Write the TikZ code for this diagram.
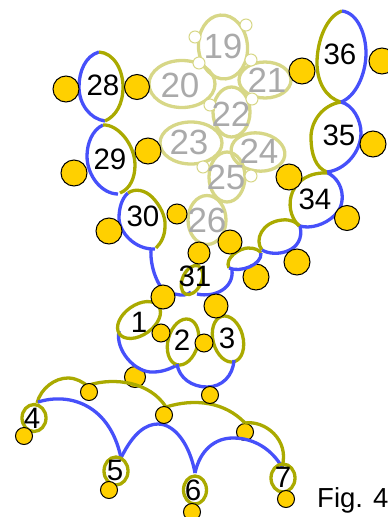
\documentclass[tikz,border=0pt]{standalone}
\usepackage{fontspec}
\setmainfont{Liberation Sans}
\definecolor{ol}{RGB}{170,170,0}
\definecolor{bl}{RGB}{70,80,250}
\definecolor{pl}{RGB}{215,215,135}
\definecolor{gd}{RGB}{255,208,0}
\definecolor{gy}{RGB}{170,170,170}
\tikzset{x=1pt,y=-1pt,
 olv/.style={draw=ol,line width=3.3pt},
 blu/.style={draw=bl,line width=3.3pt},
 pale/.style={draw=pl,line width=3.3pt},
 bead/.style={circle,draw=black,fill=gd,line width=1pt,inner sep=0pt},
 palebead/.style={circle,draw=pl,fill=white,line width=1pt,inner sep=0pt,minimum size=12pt},
 num/.style={font=\fontsize{29.5}{29.5}\selectfont,text=black,inner sep=0pt},
 gnum/.style={font=\fontsize{35}{35}\selectfont,text=gy,inner sep=0pt}}
\begin{document}
\begin{tikzpicture}
\useasboundingbox (0,0) rectangle (388,517);
% pale loops
\draw[pale,rotate around={5:(223,47)}] (223,47) ellipse (24.5 and 32);
\draw[pale] (182,84) ellipse (33 and 23.5);
\draw[pale] (265,80) ellipse (26 and 18);
\draw[pale] (231.5,112) ellipse (18.5 and 25);
\draw[pale] (191,143) ellipse (31 and 21);
\draw[pale,rotate around={-8:(258,152)}] (258,152) ellipse (27 and 19);
\draw[pale] (227,177) ellipse (18 and 25);
\draw[pale] (207,220) ellipse (19 and 24.5);
\foreach \n/\x/\y in {a/246/25,b/195/37,c/199/63,d/251/60,e/252/99,f/210/105,g/203/167,h/251/176}
 \node[palebead] (p\n) at (\x,\y) {};
% beads lying under the strands
\foreach \n/\x/\y/\d in {u1/135/377/21,u2/256/277/26,u3/245/432/17}
 \node[bead,minimum size=\d pt] (\n) at (\x,\y) {};
% strands, top chain
\draw[blu] (99,52) .. controls (85,56) and (79,72) .. (79,87) .. controls (79,104) and (90,119) .. (105,121);
\draw[olv] (99,52) .. controls (114,53) and (123,70) .. (123,87) .. controls (123,104) and (116,116) .. (105,121);
\draw[blu] (103,125) .. controls (92,130) and (87,144) .. (87,156) .. controls (87,176) and (102,194) .. (118,194);
\draw[olv] (103,125) .. controls (118,124) and (135,145) .. (135,165) .. controls (135,178) and (130,189) .. (120,193);
\draw[blu] (128,193) .. controls (122,198) and (119,208) .. (119,218) .. controls (119,232) and (135,250) .. (155,249);
\draw[olv] (128,193) .. controls (135,188) and (145,190) .. (152,197) .. controls (160,205) and (166,217) .. (165,226) .. controls (165,236) and (161,243) .. (156,248);
\draw[blu] (151,249) .. controls (150,265) and (156,283) .. (165,292);
\draw[blu] (175,294) .. controls (182,296) and (188,295) .. (191,292);
\draw[olv,rotate around={-25:(192,280)}] (192,280) ellipse (9.5 and 15.5);
\draw[blu] (197,294) .. controls (215,298) and (234,288) .. (232,270);
\draw[olv] (229,268) .. controls (224,258) and (240,248) .. (248,248) .. controls (255,248) and (259,250) .. (261,253);
\draw[blu] (229,268) .. controls (240,273) and (262,265) .. (261,253);
\draw[olv] (262,250) .. controls (254,240) and (262,222) .. (282,220) .. controls (290,219) and (296,222) .. (300,226);
\draw[blu] (262,250) .. controls (275,258) and (306,252) .. (300,226);
\draw[olv] (299,226) .. controls (281,208) and (290,171) .. (328,173);
\draw[blu] (328,173) .. controls (345,182) and (346,205) .. (335,215) .. controls (325,225) and (310,229) .. (300,226);
\draw[olv] (341,102) .. controls (322,105) and (311,122) .. (311,137) .. controls (311,155) and (316,168) .. (327,172);
\draw[blu] (341,102) .. controls (353,105) and (361,120) .. (361,133) .. controls (361,152) and (345,170) .. (327,172);
\draw[olv] (342,11) .. controls (327,16) and (317,40) .. (317,63) .. controls (317,82) and (326,98) .. (341,102);
\draw[blu] (342,11) .. controls (358,13) and (366,35) .. (366,53) .. controls (366,75) and (355,97) .. (341,102);
% strands, lower group
\draw[blu] (119,331) .. controls (115,350) and (135,373) .. (153,372) .. controls (162,372) and (170,369) .. (177,365);
\draw[olv,rotate around={35:(139,320)}] (139,320) ellipse (24 and 15);
\draw[olv,rotate around={-15:(183,342)}] (183,342) ellipse (15 and 23.5);
\draw[olv,rotate around={15:(228,339)}] (228,339) ellipse (15 and 23.5);
\draw[blu] (177,364) .. controls (179,378) and (192,387) .. (207,387) .. controls (222,387) and (233,376) .. (234,360);
% strands, bottom arcs
\draw[olv] (37,403) .. controls (41,388) and (55,378) .. (68,378) .. controls (76,378) and (83,382) .. (89,387);
\draw[olv] (89,385) .. controls (115,377) and (150,382) .. (166,407);
\draw[olv] (166,407) .. controls (195,398) and (225,402) .. (245,423);
\draw[olv] (245,423) .. controls (265,420) and (290,440) .. (282,467);
\draw[blu] (38,402) .. controls (70,392) and (110,405) .. (121,458);
\draw[blu] (121,458) .. controls (133,433) and (146,424) .. (158,424) .. controls (175,424) and (190,445) .. (195,473);
\draw[blu] (195,473) .. controls (200,450) and (215,438) .. (233,438) .. controls (255,438) and (272,450) .. (282,467);
\draw[olv] (34,418) ellipse (12 and 13.5);
\draw[olv] (116,471) ellipse (12 and 14);
\draw[olv] (195,490) ellipse (11.5 and 14);
\draw[olv] (283,478) ellipse (12 and 14);
% beads
\foreach \n/\x/\y/\d in {
 b1/66/89/26,b2/137/87/25,b3/148/151/26,b4/74/173/26,b5/302/71/26,b6/382/61/26,b7/373/144/26,
 b8/289/177/26,b9/347/218/25,b10/109/231/26,b11/177/214/20,b12/199/253/22,b13/230/242/24,
 b15/297/262/26,b16/163/297/24,b17/216/306/24,b18/161/333/18,b19/204/343/18,
 b21/210/395/17,b22/89/392/17,b23/164/415/17,b25/24/436/17,
 b26/109/490/17,b27/192/512/17,b28/286/499/17}
 \node[bead,minimum size=\d pt] (\n) at (\x,\y) {};
% labels
\foreach \n/\x/\y in {19/223/46,20/180/85,21/267/80,22/231/114,23/189/142,24/259/151,25/226/177,26/207/220}
 \node[gnum] (t\n) at (\x,\y) {\n};
\foreach \n/\x/\y in {28/103/85,29/110/159,30/143/216,31/195/276,34/315/199,35/339/135,36/340/54,
 1/139/322,2/182/340,3/227/338,4/32/418,5/115/470,6/193/490,7/283/477}
 \node[num] (t\n) at (\x,\y) {\n};
\node[font=\fontsize{27.5}{28}\selectfont,anchor=base west,inner sep=0pt] (fig) at (317,507) {Fig. 4};
\end{tikzpicture}
\end{document}
